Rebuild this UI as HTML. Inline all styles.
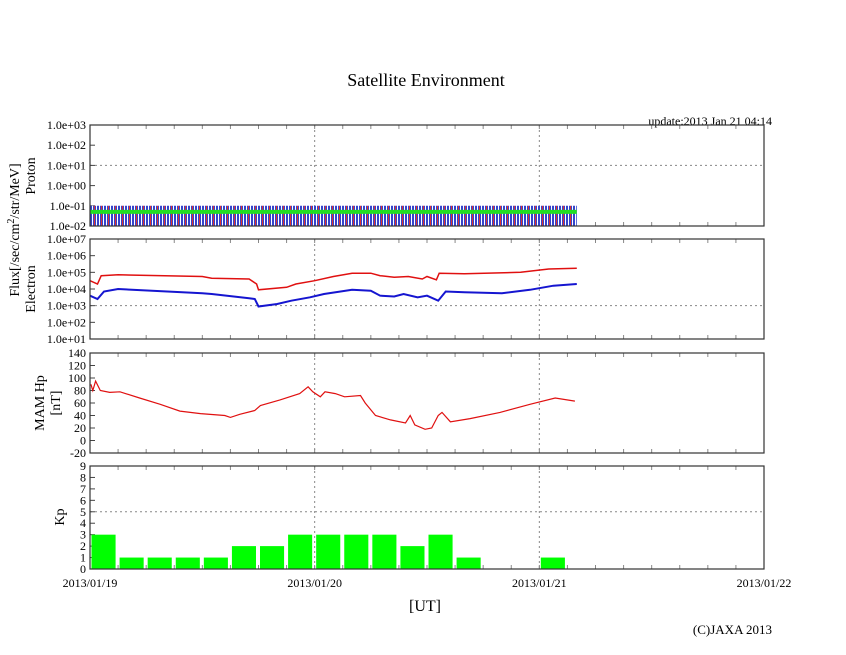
<!DOCTYPE html>
<html><head><meta charset="utf-8"><style>
body{margin:0;background:#fff}
svg{display:block;font-family:"Liberation Serif",serif}
</style></head><body>
<svg id="c" width="846" height="655">
<defs>
<pattern id="noise" width="7" height="60" patternUnits="userSpaceOnUse">
<rect x="0" y="0" width="7" height="60" fill="#3344cc"/>
<rect x="1" y="12" width="1" height="48" fill="#fff"/>
<rect x="3" y="18" width="1" height="42" fill="#e03030"/>
<rect x="5" y="14" width="1" height="46" fill="#fff"/>
</pattern>
</defs>
<text x="426" y="86" font-size="18" text-anchor="middle">Satellite Environment</text>
<text x="772" y="125" font-size="12" text-anchor="end">update:2013 Jan 21 04:14</text>
<text x="425" y="611" font-size="16" text-anchor="middle">[UT]</text>
<text x="772" y="634" font-size="13" text-anchor="end">(C)JAXA 2013</text>
<text transform="translate(19,230) rotate(-90)" font-size="14" text-anchor="middle">Flux[/sec/cm<tspan dy="-5" font-size="10">2</tspan><tspan dy="5">/str/MeV]</tspan></text>
<text transform="translate(35,176) rotate(-90)" font-size="14" text-anchor="middle">Proton</text>
<text transform="translate(35,289) rotate(-90)" font-size="14" text-anchor="middle">Electron</text>
<text transform="translate(44,403) rotate(-90)" font-size="14" text-anchor="middle">MAM Hp</text>
<text transform="translate(60,403) rotate(-90)" font-size="14" text-anchor="middle">[nT]</text>
<text transform="translate(64,517) rotate(-90)" font-size="14" text-anchor="middle">Kp</text>
</svg>
<script>
const dayLabels=["2013/01/19","2013/01/20","2013/01/21","2013/01/22"];
const kpValues=[3,1,1,1,1,2,2,3, 3,3,3,2,3,1,0,0, 1];
const mamHours=[0.1,0.3,0.6,1.1,2.1,3.2,5.3,7.5,9.6,11.8,14.4,15.0,16.0,17.6,18.2,20.3,22.4,23.3,23.8,24.6,25.1,26.2,27.2,28.9,29.4,30.5,32.1,33.7,34.2,34.7,35.8,36.5,37.2,37.6,38.5,40.6,43.8,47.0,49.7,51.8];
const mamValues=[90,80,95,80,77,78,68,58,47,43,40,37,42,48,56,65,75,86,78,70,78,75,70,72,60,40,33,28,40,25,18,20,40,45,30,35,45,58,68,63];
const eRedHours=[0,0.8,1.2,3,12,13,17,17.8,18,21,22,24,26,28,30,31,32.5,34,35.5,36,37,37.3,40,46,49,52];
const eRedLog=[4.5,4.3,4.8,4.85,4.75,4.65,4.6,4.3,3.95,4.1,4.3,4.5,4.75,4.95,4.95,4.8,4.7,4.75,4.6,4.75,4.55,4.95,4.92,5.0,5.2,5.25];
const eBlueHours=[0,0.8,1.5,3,12,13,17,17.6,18,20,21.5,23.5,25,28,30,31,32.5,33.5,35,36,37.2,38,40,44,47,49.5,52];
const eBlueLog=[3.6,3.4,3.85,4.0,3.75,3.7,3.45,3.4,2.95,3.1,3.3,3.5,3.7,3.95,3.9,3.6,3.55,3.7,3.5,3.6,3.3,3.85,3.8,3.75,3.95,4.2,4.3];
const protonHours=[0,52];
const protonBlueLow=[0.01,0.01];
const protonBlueHigh=[0.1,0.1];
const protonGreen=[0.05,0.05];

const svg=document.getElementById('c');const NS='http://www.w3.org/2000/svg';
function el(t,a,p){const e=document.createElementNS(NS,t);for(const k in a)e.setAttribute(k,a[k]);(p||svg).appendChild(e);return e;}
const X0=90,X1=764;const xs=h=>X0+(X1-X0)*h/72;
const panels=[
 {name:'proton',top:125,bot:226,min:-2,max:3,log:true,ticks:[-2,-1,0,1,2,3],grid:[1]},
 {name:'electron',top:239,bot:339,min:1,max:7,log:true,ticks:[1,2,3,4,5,6,7],grid:[3]},
 {name:'mam',top:353,bot:453,min:-20,max:140,log:false,ticks:[-20,0,20,40,60,80,100,120,140],grid:[]},
 {name:'kp',top:466,bot:569,min:0,max:9,log:false,ticks:[0,1,2,3,4,5,6,7,8,9],grid:[5]}];
panels.forEach(p=>{p.y=v=>p.bot-(p.bot-p.top)*(v-p.min)/(p.max-p.min);});
function fmt(e){return '1.0e'+(e<0?'-':'+')+String(Math.abs(e)).padStart(2,'0');}
panels.forEach(p=>{
 const g=el('g',{});
 
 
 [24,48].forEach(h=>el('line',{x1:xs(h),x2:xs(h),y1:p.top,y2:p.bot,stroke:'#888','stroke-dasharray':'2,3'},g));
 p.grid.forEach(v=>el('line',{x1:X0,x2:X1,y1:p.y(v),y2:p.y(v),stroke:'#888','stroke-dasharray':'2,3'},g));
 for(let h=3;h<72;h+=3){el('line',{x1:xs(h),x2:xs(h),y1:p.bot,y2:p.bot-4,stroke:'#888'},g);el('line',{x1:xs(h),x2:xs(h),y1:p.top,y2:p.top+4,stroke:'#888'},g);}
 p.ticks.forEach(v=>{const t=el('text',{x:X0-4,y:p.y(v)+4,'font-size':12,'text-anchor':'end'},g);t.textContent=p.log?fmt(v):String(v);
   el('line',{x1:X0,x2:X0+5,y1:p.y(v),y2:p.y(v),stroke:'#444'},g);});
 p.g=g;
});
function line(p,hs,vs,col,w,name){
 const d=hs.map((h,i)=>(i?'L':'M')+xs(h).toFixed(1)+','+p.y(vs[i]).toFixed(1)).join('');
 const e=el('path',{d:d,fill:'none',stroke:col,'stroke-width':w});
 
 
 return e;
}
const pp=panels[0];
{const d='M'+protonHours.map((h,i)=>xs(h)+','+pp.y(Math.log10(protonBlueHigh[i]))).join('L')+'L'+protonHours.slice().reverse().map((h,i)=>xs(h)+','+pp.y(Math.log10(protonBlueLow[protonHours.length-1-i]))).join('L')+'Z';
 const e=el('path',{d:d,fill:'url(#noise)'});
 
 
 line(pp,protonHours,protonGreen.map(Math.log10),'#22dd22',4,'proton-green-series');}
line(panels[1],eRedHours,eRedLog,'#e01010',1.5,'electron-red-series');
line(panels[1],eBlueHours,eBlueLog,'#1515d0',2,'electron-blue-series');
line(panels[2],mamHours,mamValues,'#e01010',1.2,'mam-hp-series');
const kp=panels[3];
kpValues.forEach((v,i)=>{if(!v)return;const b=el('rect',{x:xs(i*3)+1.5,width:xs(3)-X0-4,y:kp.y(v),height:kp.bot-kp.y(v),fill:'#00ff00'});
 
 });
panels.forEach(p=>el('rect',{x:X0,y:p.top,width:X1-X0,height:p.bot-p.top,fill:'none',stroke:'#333','stroke-width':1.2}));
dayLabels.forEach((l,i)=>{const t=el('text',{x:xs(i*24),y:587,'font-size':12,'text-anchor':'middle'});t.textContent=l;
 
 });
</script>
</body></html>
